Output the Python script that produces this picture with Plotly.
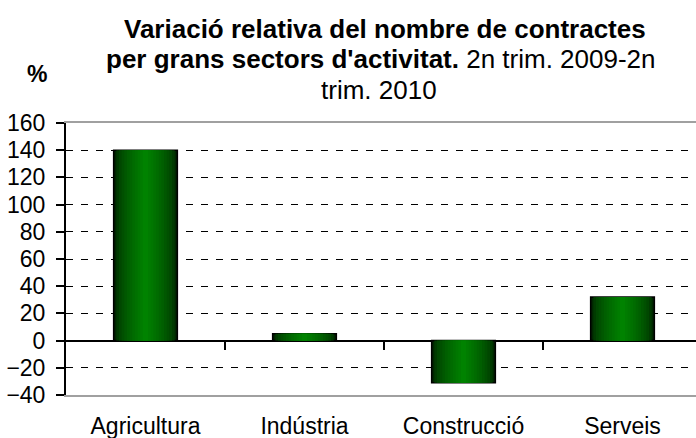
import plotly.graph_objects as go

categories = ["Agricultura", "Indústria", "Construcció", "Serveis"]
values = [140, 5, -31, 32]
y_ticks = [-40, -20, 0, 20, 40, 60, 80, 100, 120, 140, 160]
title_lines = [
    "<b>Variació relativa del nombre de contractes</b>",
    "<b>per grans sectors d'activitat.</b> 2n trim. 2009-2n",
    "trim. 2010",
]

FONT = "Liberation Sans, Arial, sans-serif"
fig = go.Figure()

# gradient cylinder-like bars made of overlaid narrower layers
N = 12
full_w = 0.40
dark = (0, 38, 0)
bright = (0, 130, 0)
for k in range(N):
    t = k / (N - 1)
    t = t ** 0.6
    c = tuple(int(dark[i] + (bright[i] - dark[i]) * t) for i in range(3))
    w = full_w * (1 - k / N)
    fig.add_trace(go.Bar(
        x=categories, y=values, width=w,
        marker=dict(color="rgb(%d,%d,%d)" % c,
                    line=dict(color="black", width=1.6 if k == 0 else 0)),
        opacity=1, showlegend=False, hoverinfo="skip",
    ))

# dummy trace for the overlay axis carrying category tick marks on the zero line
fig.add_trace(go.Scatter(x=[None], y=[None], xaxis="x2", showlegend=False, hoverinfo="skip"))

x_range = [-0.5, -0.5 + 630 / 159]
fig.update_layout(
    width=696, height=438,
    margin=dict(l=66, r=0, t=123, b=43, autoexpand=False),
    paper_bgcolor="white", plot_bgcolor="white",
    barmode="overlay",
    font=dict(family=FONT, color="black"),
    xaxis=dict(
        type="category", range=x_range, automargin=False,
        showline=True, linecolor="#a0a0a0", linewidth=2, mirror=True,
        ticks="", showgrid=False,
        tickfont=dict(size=23, family=FONT, color="black"),
        ticklabelstandoff=9,
    ),
    xaxis2=dict(
        overlaying="x", anchor="free", position=0.2, type="linear",
        range=x_range, tickvals=[0.5, 1.5, 2.5], automargin=False,
        ticks="outside", ticklen=8, tickwidth=2, tickcolor="black",
        showticklabels=False, showgrid=False, showline=False, zeroline=False,
    ),
    yaxis=dict(
        range=[-40, 160], tickvals=y_ticks, automargin=False,
        showline=True, linecolor="black", linewidth=2,
        ticks="outside", ticklen=8, tickwidth=2, tickcolor="black",
        tickfont=dict(size=23, family=FONT, color="black"),
        ticklabelstandoff=6,
        showgrid=True, gridcolor="black", gridwidth=1, griddash="7px,8px",
        zeroline=True, zerolinecolor="black", zerolinewidth=2,
    ),
)

ys = [1.346, 1.236, 1.123]
xs = [0.506, 0.500, 0.497]
for txt, yy, xx in zip(title_lines, ys, xs):
    fig.add_annotation(text=txt, xref="paper", yref="paper", x=xx, y=yy,
                       xanchor="center", yanchor="middle", showarrow=False,
                       font=dict(size=26, family=FONT, color="black"))
fig.add_annotation(text="<b>%</b>", xref="paper", yref="paper", x=-0.046, y=1.180,
                   xanchor="center", yanchor="middle", showarrow=False,
                   font=dict(size=23, family=FONT, color="black"))

fig.write_html("out.html", config={"displayModeBar": False},
               post_script="document.body.style.margin='0px';document.body.style.padding='0px';")
